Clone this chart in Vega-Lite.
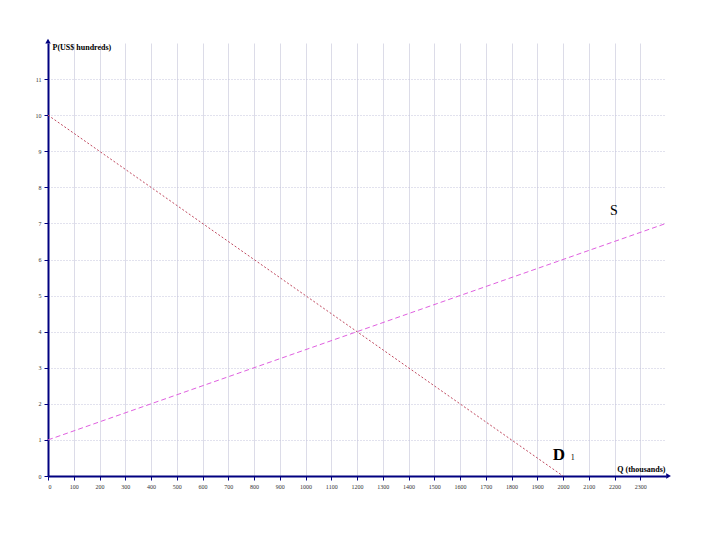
{
  "$schema": "https://vega.github.io/schema/vega-lite/v6.json",
  "width": 618,
  "height": 433,
  "autosize": "none",
  "padding": {"left": 48, "top": 43, "right": 54, "bottom": 64},
  "background": "white",
  "config": {"view": {"stroke": null}, "font": "Liberation Serif"},
  "datasets": {
    "lines": [
      {"curve": "D", "q": 0, "p": 10},
      {"curve": "D", "q": 2000, "p": 0},
      {"curve": "S", "q": 0, "p": 1},
      {"curve": "S", "q": 2400, "p": 7}
    ],
    "slabel": [
      {"q": 2183, "p": 7.35, "text": "S"}
    ],
    "dlabel": [
      {"q": 1960, "p": 0.58, "text": "D"}
    ],
    "subs": [
      {"q": 2030, "p": 0.5, "text": "1"}
    ],
    "arrows": [
      {"q": 0, "p": 12.05, "shape": "triangle-up"},
      {"q": 2410, "p": 0, "shape": "triangle-right"}
    ]
  },
  "encoding": {
    "x": {"field": "q", "type": "quantitative", "scale": {"domain": [0, 2400], "nice": false},
      "axis": {"values": [0,100,200,300,400,500,600,700,800,900,1000,1100,1200,1300,1400,1500,1600,1700,1800,1900,2000,2100,2200,2300],
        "format": "d", "labelOverlap": false,
        "title": "Q (thousands)", "titleAngle": 0, "titleAlign": "right", "titleBaseline": "bottom", "titleX": 617, "titleY": -3,
        "titleFont": "Liberation Serif", "titleFontSize": 8, "titleFontWeight": "bold", "titleColor": "#000",
        "labelFontSize": 6, "labelFont": "Liberation Serif", "labelColor": "#333", "labelPadding": 3,
        "domainColor": "#000080", "domainWidth": 2, "tickColor": "#000080", "tickSize": 4,
        "grid": true, "gridColor": "#dcdce8", "gridWidth": 1}},
    "y": {"field": "p", "type": "quantitative", "scale": {"domain": [0, 12], "nice": false},
      "axis": {"values": [0,1,2,3,4,5,6,7,8,9,10,11],
        "format": "d", "labelOverlap": false,
        "title": "P(US$ hundreds)", "titleAngle": 0, "titleAlign": "left", "titleBaseline": "middle", "titleX": 4, "titleY": 4,
        "titleFont": "Liberation Serif", "titleFontSize": 8, "titleFontWeight": "bold", "titleColor": "#000",
        "labelFontSize": 6, "labelFont": "Liberation Serif", "labelColor": "#333", "labelPadding": 3,
        "domainColor": "#000080", "domainWidth": 2, "tickColor": "#000080", "tickSize": 4,
        "grid": true, "gridColor": "#c4c4dc", "gridWidth": 1, "gridDash": [1, 2]}}
  },
  "layer": [
    {
      "data": {"name": "lines"},
      "mark": {"type": "line", "strokeWidth": 1},
      "encoding": {
        "color": {"field": "curve", "type": "nominal", "scale": {"domain": ["D", "S"], "range": ["#c04a60", "#e060e0"]}, "legend": null},
        "strokeDash": {"field": "curve", "type": "nominal", "scale": {"domain": ["D", "S"], "range": [[2, 2], [5, 3]]}, "legend": null}
      }
    },
    {
      "data": {"name": "slabel"},
      "mark": {"type": "text", "font": "Liberation Serif", "fontSize": 14, "align": "left", "baseline": "middle", "color": "#000"},
      "encoding": {"text": {"field": "text"}}
    },
    {
      "data": {"name": "dlabel"},
      "mark": {"type": "text", "font": "Liberation Serif", "fontSize": 17, "fontWeight": "bold", "align": "left", "baseline": "middle", "color": "#000"},
      "encoding": {"text": {"field": "text"}}
    },
    {
      "data": {"name": "subs"},
      "mark": {"type": "text", "font": "Liberation Serif", "fontSize": 8, "align": "left", "baseline": "middle", "color": "#000"},
      "encoding": {"text": {"field": "text"}}
    },
    {
      "data": {"name": "arrows"},
      "mark": {"type": "point", "filled": true, "size": 30, "color": "#000080", "opacity": 1, "clip": false},
      "encoding": {
        "shape": {"field": "shape", "type": "nominal", "scale": null}
      }
    }
  ]
}
